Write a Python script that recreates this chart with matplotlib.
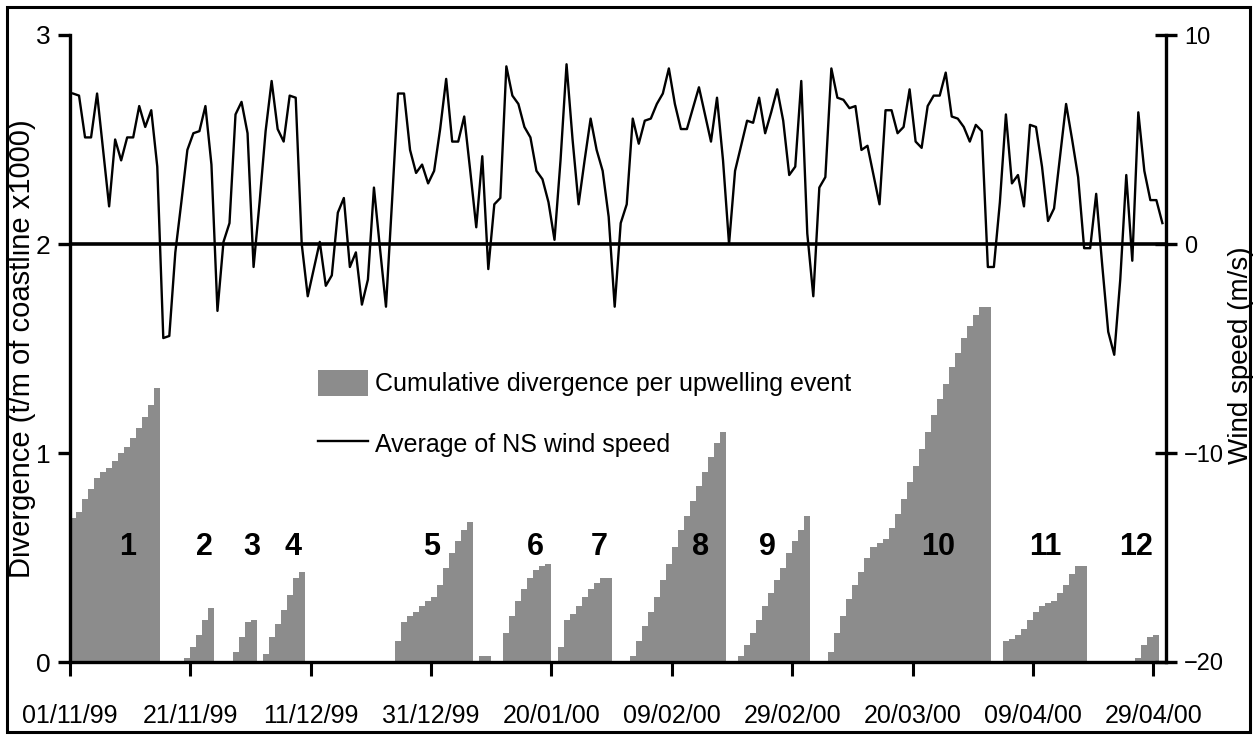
#!/usr/bin/env python3
import datetime as dt

import matplotlib

matplotlib.use("Agg")
import matplotlib.pyplot as plt
import matplotlib.dates as mdates
from matplotlib.lines import Line2D
from matplotlib.patches import Patch, Rectangle

START = dt.datetime(1999, 11, 1)

# daily average NS wind speed (m/s), one value per day from 01/11/99
wind_speed = [
    7.2, 7.1, 5.1, 5.1, 7.2, 4.5, 1.8, 5.0, 4.0, 5.1,
    5.1, 6.6, 5.6, 6.4, 3.7, -4.5, -4.4, -0.4, 2.0, 4.5,
    5.3, 5.4, 6.6, 3.8, -3.2, 0.1, 1.0, 6.2, 6.8, 5.3,
    -1.1, 2.0, 5.4, 7.8, 5.5, 4.9, 7.1, 7.0, 0.0, -2.5,
    -1.2, 0.1, -2.0, -1.5, 1.5, 2.2, -1.1, -0.4, -2.9, -1.7,
    2.7, -0.2, -3.0, 2.0, 7.2, 7.2, 4.5, 3.4, 3.8, 2.9,
    3.5, 5.5, 7.9, 4.9, 4.9, 6.1, 3.5, 0.8, 4.2, -1.2,
    1.9, 2.2, 8.5, 7.1, 6.7, 5.6, 5.1, 3.5, 3.1, 2.0,
    0.2, 4.0, 8.6, 5.0, 1.9, 4.0, 6.0, 4.5, 3.5, 1.3,
    -3.0, 1.0, 1.9, 6.0, 4.8, 5.9, 6.0, 6.7, 7.2, 8.4,
    6.7, 5.5, 5.5, 6.5, 7.5, 6.2, 4.9, 7.0, 4.0, 0.0,
    3.5, 4.7, 5.9, 5.8, 7.0, 5.3, 6.3, 7.4, 5.9, 3.3,
    3.7, 7.8, 0.5, -2.5, 2.7, 3.2, 8.4, 7.0, 6.9, 6.5,
    6.6, 4.5, 4.7, 3.3, 1.9, 6.4, 6.4, 5.3, 5.6, 7.4,
    4.9, 4.6, 6.6, 7.1, 7.1, 8.2, 6.1, 6.0, 5.6, 4.9,
    5.7, 5.4, -1.1, -1.1, 2.0, 6.2, 2.9, 3.3, 1.8, 5.7,
    5.6, 3.7, 1.1, 1.7, 4.2, 6.7, 5.0, 3.2, -0.2, -0.2,
    2.4, -1.0, -4.2, -5.3, -1.7, 3.3, -0.8, 6.3, 3.5, 2.1,
    2.1, 1.0,
]

# upwelling events: first day (offset from 01/11/99) and daily cumulative divergence
event_start = [0, 19, 27, 32, 54, 72, 81, 93, 111, 126, 155, 177]
event_values = [
    [0.69, 0.72, 0.78, 0.83, 0.88, 0.91, 0.93, 0.96, 1.0, 1.03, 1.07, 1.12, 1.17, 1.23, 1.31],
    [0.02, 0.07, 0.13, 0.2, 0.26],
    [0.05, 0.12, 0.19, 0.2],
    [0.04, 0.12, 0.18, 0.25, 0.32, 0.4, 0.43],
    [0.1, 0.19, 0.22, 0.24, 0.27, 0.29, 0.31, 0.37, 0.45, 0.52, 0.58, 0.63, 0.67],
    [0.14, 0.22, 0.29, 0.35, 0.4, 0.44, 0.46, 0.47],
    [0.07, 0.2, 0.23, 0.27, 0.31, 0.35, 0.38, 0.4, 0.4],
    [0.03, 0.1, 0.17, 0.24, 0.31, 0.39, 0.47, 0.55, 0.63, 0.7, 0.77, 0.84, 0.91, 0.98, 1.05, 1.1],
    [0.03, 0.08, 0.14, 0.2, 0.27, 0.33, 0.39, 0.45, 0.52, 0.58, 0.63, 0.7],
    [0.05, 0.14, 0.22, 0.3, 0.37, 0.43, 0.5, 0.55, 0.57, 0.59, 0.64, 0.71, 0.78, 0.86,
     0.94, 1.02, 1.1, 1.18, 1.26, 1.33, 1.41, 1.48, 1.55, 1.61, 1.66, 1.7, 1.7],
    [0.1, 0.11, 0.13, 0.16, 0.2, 0.24, 0.27, 0.28, 0.29, 0.33, 0.37, 0.42, 0.46, 0.46],
    [0.02, 0.08, 0.12, 0.13],
]
residual_start = [68]
residual_values = [[0.03, 0.03]]

event_label = [str(i) for i in range(1, 13)]
event_label_day = [9.6, 22.3, 30.2, 37.0, 60.0, 77.4, 87.9, 104.7, 115.8, 144.2, 162.0, 177.2]

tick_day = [0, 20, 40, 60, 80, 100, 120, 140, 160, 180]

FONT = ["Liberation Sans Narrow", "Liberation Sans", "DejaVu Sans"]
GREY = "#8c8c8c"


def day(d):
    return START + dt.timedelta(days=d)


def main() -> int:
    plt.rcParams["font.family"] = FONT
    fig = plt.figure(figsize=(12.53, 7.36), dpi=100)
    ax = fig.add_axes([70 / 1253, 1 - 662 / 736, (1166 - 70) / 1253, (662 - 35) / 736])
    ax2 = ax.twinx()

    for s, vals in zip(event_start + residual_start, event_values + residual_values):
        xs = [day(s + i) for i in range(len(vals))]
        ax.bar(xs, vals, width=1.0, align="edge", color=GREY, linewidth=0, zorder=2)

    for lab, d in zip(event_label, event_label_day):
        ax.text(day(d), 0.55, lab, ha="center", va="center", fontsize=22,
                fontweight="bold", zorder=5)

    wind_x = [day(i + 0.5) for i in range(len(wind_speed))]
    ax2.plot(wind_x, wind_speed, color="black", lw=1.7, zorder=4)
    ax2.axhline(0, color="black", lw=2.6, zorder=3)

    ax.set_xlim(day(0), day(182.1))
    ax.set_ylim(0, 3)
    ax2.set_ylim(-20, 10)
    ax.set_xticks([day(d) for d in tick_day])
    ax.xaxis.set_major_formatter(mdates.DateFormatter("%d/%m/%y"))
    ax.set_yticks([0, 1, 2, 3])
    ax2.set_yticks([-20, -10, 0, 10])

    for a in (ax, ax2):
        for sp in a.spines.values():
            sp.set_visible(False)
    ax.spines["left"].set_visible(True)
    ax.spines["bottom"].set_visible(True)
    ax2.spines["right"].set_visible(True)
    for sp in (ax.spines["left"], ax.spines["bottom"], ax2.spines["right"]):
        sp.set_linewidth(2.4)

    ax.tick_params(axis="x", direction="out", length=10, width=2.2, pad=20, labelsize=18)
    ax.tick_params(axis="y", direction="out", length=9, width=2.4, pad=5, labelsize=19)
    ax2.tick_params(axis="y", direction="inout", length=16, width=2.4, pad=5, labelsize=17)

    ax.set_ylabel("Divergence (t/m of coastline x1000)", fontsize=21, va="center")
    ax.yaxis.set_label_coords(-0.0435, 0.5)
    ax2.set_ylabel("Wind speed (m/s)", fontsize=20, rotation=90, va="center")
    ax2.yaxis.set_label_coords(1.0685, 0.49)

    ax2.set_zorder(ax.get_zorder() + 1)
    ax2.patch.set_visible(False)

    handles = [Patch(facecolor=GREY, edgecolor="none"), Line2D([], [], color="black", lw=1.7)]
    labels = ["Cumulative divergence per upwelling event", "Average of NS wind speed"]
    ax2.legend(handles, labels, loc="upper left", bbox_to_anchor=(0.217, 0.482), frameon=False,
               fontsize=18, handlelength=2.0, handleheight=1.25, handletextpad=0.3,
               labelspacing=1.35, borderaxespad=0)

    fig.patches.append(Rectangle((7 / 1253, 4 / 736), 1243 / 1253, 725 / 736,
                                 transform=fig.transFigure, fill=False, lw=2.2,
                                 edgecolor="black"))

    fig.savefig("out.png", dpi=100)
    plt.close(fig)
    return 0


if __name__ == "__main__":
    raise SystemExit(main())
